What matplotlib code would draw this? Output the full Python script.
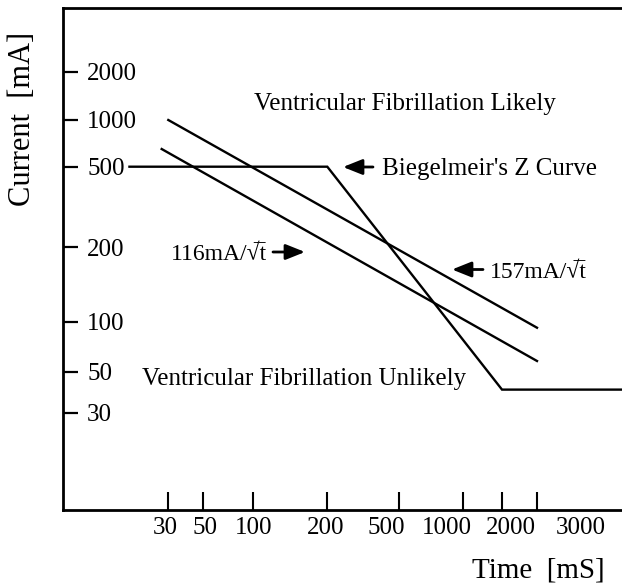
import numpy as np
import matplotlib
matplotlib.use("Agg")
import matplotlib.pyplot as plt
from matplotlib.transforms import ScaledTranslation

plt.rcParams['font.family'] = ['Liberation Serif', 'DejaVu Serif']

# tick values
time_ticks = [30, 50, 100, 200, 500, 1000, 2000, 3000]
current_ticks = [30, 50, 100, 200, 500, 1000, 2000]

# Biegelmeir's Z curve
z_time = [20, 200, 2000, 10000]
z_current = [500, 500, 40, 40]

# 157 mA / sqrt(t) line
line157_time = [30, 3000]
line157_current = [1000, 92]

# 116 mA / sqrt(t) line
line116_time = [28, 3000]
line116_current = [650, 58]

# hand-spaced log axes: value -> position along the axis
x_knots = np.log10([10, 30, 50, 100, 200, 500, 1000, 2000, 3000, 10000])
x_knot_pos = [0, 105.3, 140, 189.7, 264.3, 335.7, 399.7, 439, 474, 559]
y_knots = np.log10([10, 30, 50, 100, 200, 500, 1000, 2000, 5000])
y_knot_pos = [0, 97.3, 138.3, 188.3, 262.7, 343.3, 390, 438.3, 502]


def make_scale(knots, pos):
    def fwd(v):
        v = np.clip(np.asarray(v, dtype=float), 1e-3, None)
        return np.interp(np.log10(v), knots, pos)

    def inv(p):
        return 10 ** np.interp(np.asarray(p, dtype=float), pos, knots)
    return fwd, inv


fig = plt.figure(figsize=(6.22, 5.85), dpi=100)
ax = fig.add_axes([63 / 622, 75 / 585, 559 / 622, 502 / 585])

ax.set_xscale('function', functions=make_scale(x_knots, x_knot_pos))
ax.set_yscale('function', functions=make_scale(y_knots, y_knot_pos))
ax.set_xlim(10, 10000)
ax.set_ylim(10, 5000)

lw = 1.7
ax.plot(z_time, z_current, color='black', lw=lw, solid_joinstyle='miter')
ax.plot(line157_time, line157_current, color='black', lw=lw)
ax.plot(line116_time, line116_current, color='black', lw=lw)

for side in ['left', 'top', 'bottom']:
    ax.spines[side].set_linewidth(2)
ax.spines['right'].set_visible(False)

ax.set_xticks(time_ticks)
ax.set_xticklabels([str(t) for t in time_ticks])
ax.set_yticks(current_ticks)
ax.set_yticklabels([str(c) for c in current_ticks])
ax.minorticks_off()
ax.tick_params(axis='x', direction='in', length=13, width=1.5, pad=5,
               labelsize=18)
ax.tick_params(axis='y', direction='in', length=10.8, width=1.6, pad=-17.3,
               labelsize=18)
for lbl in ax.get_yticklabels():
    lbl.set_horizontalalignment('left')

# the time labels sit a little off their ticks
xlabel_shift_px = [-3, 2.5, 1.3, -2, -12, -15.7, 9.3, 43.7]
for lbl, dx in zip(ax.get_xticklabels(), xlabel_shift_px):
    lbl.set_transform(lbl.get_transform()
                      + ScaledTranslation(dx / 100, 0, fig.dpi_scale_trans))


def fx(px):
    return (px - 63) / 559


def fy(py):
    return (510 - py) / 502


tkw = dict(transform=ax.transAxes, fontsize=18, ha='left', va='baseline')
ax.text(fx(254), fy(110), "Ventricular Fibrillation Likely", **tkw)
ax.text(fx(142), fy(385), "Ventricular Fibrillation Unlikely", **tkw)
ax.text(fx(382), fy(175), "Biegelmeir's Z Curve", **tkw)
tkw['fontsize'] = 17
ax.text(fx(171), fy(260), "116mA/\u221a\u0305t", **tkw)
ax.text(fx(490), fy(278), "157mA/\u221a\u0305t", **tkw)

akw = dict(arrowstyle='-|>,head_length=0.65,head_width=0.26',
           color='black', lw=2, mutation_scale=18, shrinkA=0, shrinkB=0)
for tail, tip, y in [(373, 343, 167), (273, 305, 252), (483, 452, 269.5)]:
    ax.annotate('', xy=(fx(tip), fy(y)), xytext=(fx(tail), fy(y)),
                xycoords='axes fraction', textcoords='axes fraction',
                arrowprops=akw)

fig.text(23 / 622, 1 - 119 / 585, "Current  [mA]", rotation=90,
         ha='center', va='center', fontsize=22)
fig.text(605 / 622, 1 - 578 / 585, "Time  [mS]", ha='right', va='baseline',
         fontsize=21)

fig.savefig("out.png", dpi=100)
